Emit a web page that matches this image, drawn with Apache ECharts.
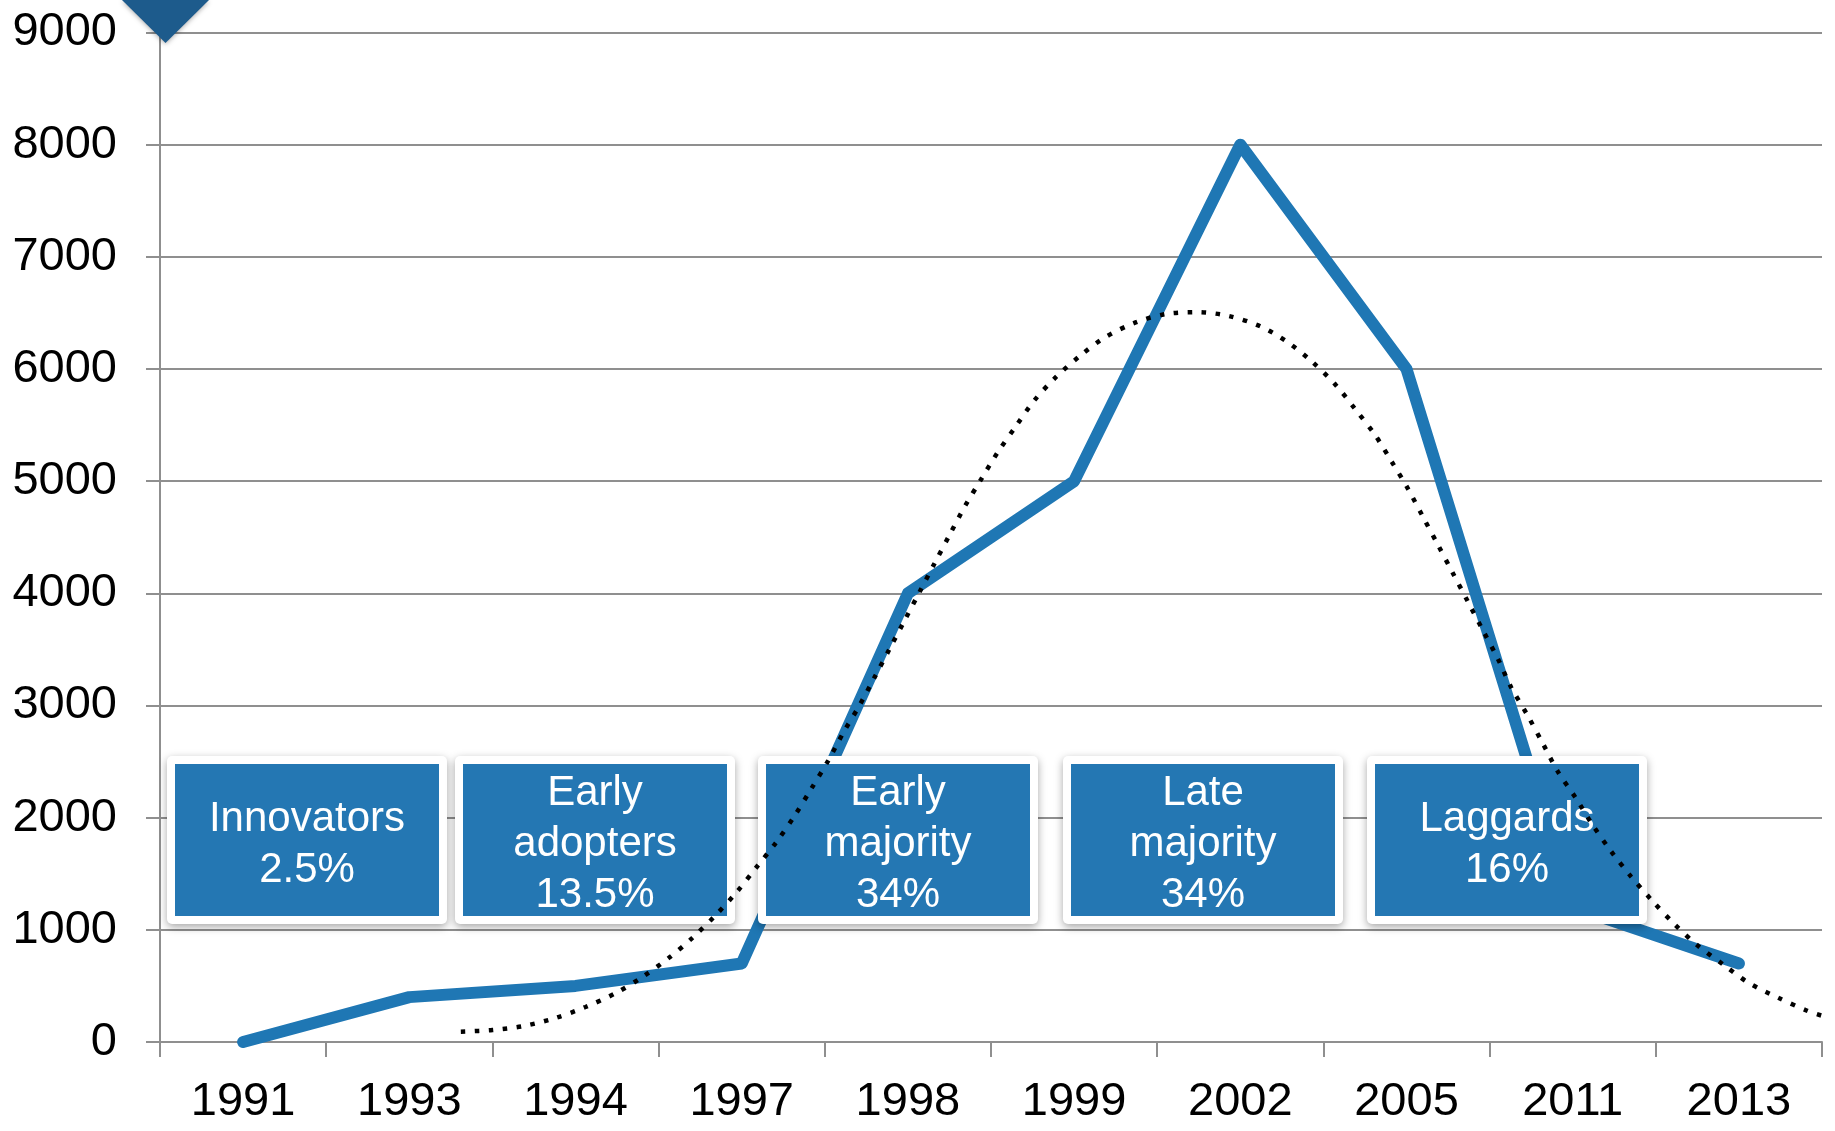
<!DOCTYPE html>
<html>
<head>
<meta charset="utf-8">
<script src="https://cdn.jsdelivr.net/npm/echarts@6/dist/echarts.min.js"></script>
<style>
  html, body { margin: 0; padding: 0; background: #ffffff; }
  #chart { width: 1835px; height: 1131px; }
</style>
</head>
<body>
<div id="chart"></div>
<script>
// Adoption counts per year
const years = ['1991', '1993', '1994', '1997', '1998', '1999', '2002', '2005', '2011', '2013'];
const adopters = [0, 400, 500, 700, 4000, 5000, 8000, 6000, 1200, 700];

// Fitted trend curve: position along the category band (0 = left edge, 10 = right edge) and value
const trendPos = [1.81, 2.00, 2.19, 2.38, 2.56, 2.74, 2.90, 3.06, 3.20, 3.34, 3.47, 3.59, 3.71, 3.82, 3.92,
  4.02, 4.11, 4.21, 4.30, 4.39, 4.48, 4.57, 4.66, 4.75, 4.84, 4.94, 5.04, 5.15, 5.26, 5.39, 5.54, 5.69,
  5.87, 6.05, 6.24, 6.43, 6.62, 6.78, 6.93, 7.07, 7.19, 7.31, 7.41, 7.51, 7.60, 7.69, 7.78, 7.87, 7.96,
  8.05, 8.13, 8.23, 8.32, 8.41, 8.52, 8.62, 8.73, 8.85, 8.98, 9.11, 9.25, 9.41, 9.56, 9.74, 9.91, 10.0];
const trendVal = [92, 107, 143, 214, 312, 434, 577, 748, 924, 1126, 1337, 1560, 1785, 2021, 2261,
  2507, 2754, 3004, 3253, 3505, 3758, 4012, 4266, 4519, 4768, 5015, 5256, 5490, 5719, 5927, 6123, 6286,
  6415, 6490, 6507, 6473, 6381, 6245, 6067, 5865, 5645, 5413, 5176, 4929, 4679, 4430, 4177, 3924, 3669,
  3416, 3161, 2908, 2662, 2412, 2172, 1934, 1702, 1477, 1257, 1054, 862, 686, 526, 392, 279, 234];

// Value axis range and step
const yMin = 0;
const yMax = 9000;
const yStep = 1000;

// Adopter categories shown in the boxes
const segmentNames = ['Innovators', 'Early\nadopters', 'Early\nmajority', 'Late\nmajority', 'Laggards'];
const segmentShares = ['2.5%', '13.5%', '34%', '34%', '16%'];

const FONT = '"Liberation Sans", Arial, Helvetica, sans-serif';
const GRID_COLOR = '#8f8f8f';
const LINE_BLUE = '#1f77b4';
const BOX_BLUE = '#2477b3';

const chart = echarts.init(document.getElementById('chart'), null, { renderer: 'canvas' });

// Box layout (left edge of each blue panel, shared top/size)
const boxLeft = [175, 463, 766, 1071, 1375];
const boxTop = 764, boxW = 264, boxH = 152, pad = 8;

const graphics = [];
// Dark marker at the top of the value axis
graphics.push({
  type: 'polygon',
  z: 20,
  shape: { points: [[122, 0], [209, 0], [165.5, 43]] },
  style: { fill: '#1d5b8c', shadowBlur: 5, shadowColor: 'rgba(0,0,0,0.35)', shadowOffsetY: 1 }
});
segmentNames.forEach((name, i) => {
  graphics.push({
    type: 'group',
    x: boxLeft[i] - pad,
    y: boxTop - pad,
    z: 5,
    children: [
      {
        type: 'rect', z: 5,
        shape: { x: 0, y: 0, width: boxW + 2 * pad, height: boxH + 2 * pad, r: 5 },
        style: { fill: '#ffffff', shadowBlur: 8, shadowOffsetY: 3, shadowColor: 'rgba(0,0,0,0.35)' }
      },
      {
        type: 'rect', z: 6,
        shape: { x: pad, y: pad, width: boxW, height: boxH },
        style: { fill: BOX_BLUE }
      },
      {
        type: 'text', z: 7,
        x: pad + boxW / 2,
        y: pad + boxH / 2 + 4.5,
        style: {
          text: name + '\n' + segmentShares[i],
          fill: '#ffffff',
          font: '42px ' + FONT,
          lineHeight: 51,
          align: 'center',
          verticalAlign: 'middle'
        }
      }
    ]
  });
});

chart.setOption({
  backgroundColor: '#ffffff',
  animation: false,
  grid: { left: 160, right: 13, top: 32.5, bottom: 89, containLabel: false },
  xAxis: [
    {
      type: 'category',
      data: years,
      boundaryGap: true,
      axisLine: { show: true, lineStyle: { color: GRID_COLOR, width: 2 } },
      axisTick: { show: true, length: 15, lineStyle: { color: GRID_COLOR, width: 2 } },
      axisLabel: { color: '#000000', fontSize: 47, fontFamily: FONT, margin: 37, interval: 0 },
      splitLine: { show: false }
    },
    {
      type: 'value',
      min: 0,
      max: years.length,
      show: false
    }
  ],
  yAxis: {
    type: 'value',
    min: yMin,
    max: yMax,
    interval: yStep,
    axisLine: { show: true, lineStyle: { color: GRID_COLOR, width: 2 } },
    axisTick: { show: true, length: 14, lineStyle: { color: GRID_COLOR, width: 2 } },
    axisLabel: {
      color: '#000000', fontSize: 47, fontFamily: FONT, margin: 43,
      formatter: (v) => String(v)
    },
    splitLine: { show: true, lineStyle: { color: GRID_COLOR, width: 2 } }
  },
  series: [
    {
      name: 'Adopters',
      type: 'line',
      xAxisIndex: 0,
      data: adopters,
      symbol: 'none',
      z: 1,
      lineStyle: { color: LINE_BLUE, width: 12, cap: 'round', join: 'round' }
    },
    {
      name: 'Trend',
      type: 'line',
      xAxisIndex: 1,
      data: trendPos.map((p, i) => [p, trendVal[i]]),
      symbol: 'none',
      smooth: 0.3,
      z: 10,
      lineStyle: { color: '#000000', width: 4.5, type: [4.5, 9.5], cap: 'butt' }
    }
  ],
  graphic: graphics
});
</script>
</body>
</html>
